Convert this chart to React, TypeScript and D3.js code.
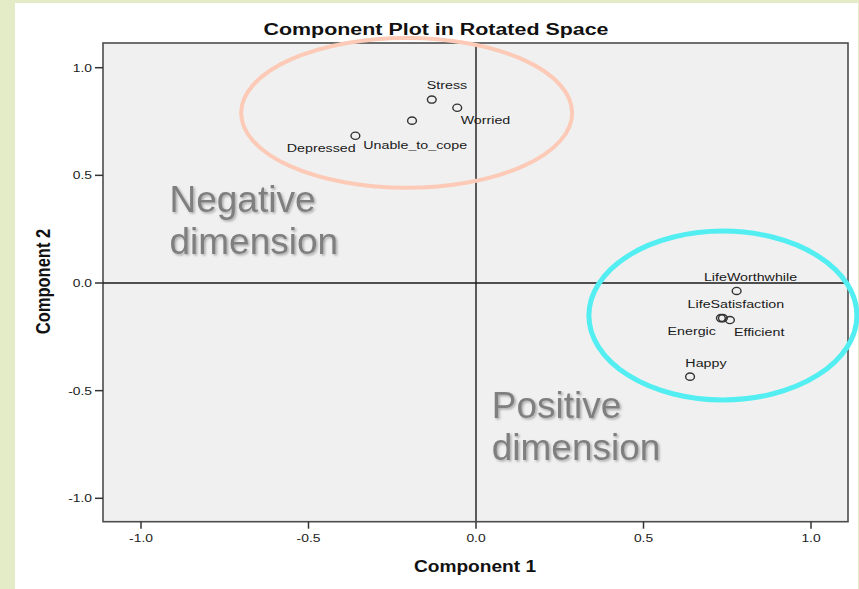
import React from "react";
import * as d3 from "d3";

const pointNames = ["Stress", "Worried", "Unable_to_cope", "Depressed", "LifeWorthwhile", "LifeSatisfaction", "Energic", "Efficient", "Happy"];
const component1 = [-0.132, -0.056, -0.191, -0.360, 0.778, 0.731, 0.737, 0.758, 0.639];
const component2 = [0.852, 0.814, 0.754, 0.684, -0.037, -0.163, -0.163, -0.172, -0.435];
const tickValues = [-1.0, -0.5, 0.0, 0.5, 1.0];
const tickLabels = ["-1.0", "-0.5", "0.0", "0.5", "1.0"];
const titleText = "Component Plot in Rotated Space";
const xAxisTitle = "Component 1";
const yAxisTitle = "Component 2";
const annotationLines = [["Negative", "dimension"], ["Positive", "dimension"]];
const annotationAnchorX = [-0.915, 0.047];
const annotationAnchorY = [0.331, -0.628];
const ellipseCx = [-0.207, 0.737];
const ellipseCy = [0.790, -0.151];
const ellipseRx = [0.494, 0.400];
const ellipseRy = [0.348, 0.392];

// label layout offsets (pixels, relative to point)
const labelDx = [-5, 3.4, -48.7, -68.6, -32.7, -33.3, -55.3, 4, -4.7];
const labelDy = [-10.7, 16.3, 28.3, 15.8, -10.3, -9.7, 17, 15.7, -9.4];

const W = 859;
const H = 589;
const plot = { left: 103, top: 43, right: 848, bottom: 521.7 };
const FONT = "'Liberation Sans', Arial, sans-serif";

export default function App() {
  const x = d3.scaleLinear().domain([-1, 1]).range([141, 811]);
  const y = d3.scaleLinear().domain([-1, 1]).range([498.3, 67.7]);
  const ellipseColors = ["#fccab6", "#52eef1"];
  const ellipseWidths = [4, 5];

  return (
    <div style={{ position: "fixed", left: 0, top: 0 }}>
      <svg width={W} height={H} style={{ display: "block" }}>
        <defs>
          <filter id="shadow" x="-10%" y="-10%" width="130%" height="140%">
            <feDropShadow dx="1.5" dy="1.5" stdDeviation="1.2" floodColor="#000" floodOpacity="0.3" />
          </filter>
        </defs>
        <rect x={0} y={0} width={W} height={H} fill="#e3ebc7" />
        <rect x={15} y={3} width={843} height={H - 3} fill="#ffffff" />
        <rect
          x={plot.left}
          y={plot.top}
          width={plot.right - plot.left}
          height={plot.bottom - plot.top}
          fill="#f0f0f0"
          stroke="#4d4d4d"
          strokeWidth={1.6}
        />
        {/* reference lines */}
        <line x1={x(0)} x2={x(0)} y1={plot.top} y2={plot.bottom} stroke="#5a5a5a" strokeWidth={2} />
        <line x1={plot.left} x2={plot.right} y1={y(0)} y2={y(0)} stroke="#1a1a1a" strokeWidth={1.5} />

        {/* y ticks */}
        {tickValues.map((v, i) => (
          <g key={"yt" + i}>
            <line x1={95} x2={plot.left} y1={y(v)} y2={y(v)} stroke="#333" strokeWidth={1.5} />
            <text
              transform={`translate(92,${y(v) + 4}) scale(1.26,1)`}
              textAnchor="end"
              fontFamily={FONT}
              fontSize={11}
              fill="#222"
            >
              {tickLabels[i]}
            </text>
          </g>
        ))}
        {/* x ticks */}
        {tickValues.map((v, i) => (
          <g key={"xt" + i}>
            <line x1={x(v)} x2={x(v)} y1={plot.bottom} y2={plot.bottom + 7} stroke="#333" strokeWidth={1.5} />
            <text
              transform={`translate(${x(v)},542) scale(1.26,1)`}
              textAnchor="middle"
              fontFamily={FONT}
              fontSize={11}
              fill="#222"
            >
              {tickLabels[i]}
            </text>
          </g>
        ))}

        {/* points */}
        {pointNames.map((name, i) => (
          <g key={name}>
            <ellipse
              cx={x(component1[i])}
              cy={y(component2[i])}
              rx={4.4}
              ry={3.6}
              fill="none"
              stroke="#333"
              strokeWidth={1.4}
            />
            <text
              transform={`translate(${x(component1[i]) + labelDx[i]},${y(component2[i]) + labelDy[i]}) scale(1.24,1)`}
              fontFamily={FONT}
              fontSize={11.5}
              fill="#1a1a1a"
            >
              {name}
            </text>
          </g>
        ))}

        {/* annotation ellipses */}
        {ellipseCx.map((cx, i) => (
          <ellipse
            key={"el" + i}
            cx={x(cx)}
            cy={y(ellipseCy[i])}
            rx={x(ellipseRx[i]) - x(0)}
            ry={y(0) - y(ellipseRy[i])}
            fill="none"
            stroke={ellipseColors[i]}
            strokeWidth={ellipseWidths[i]}
          />
        ))}

        {/* annotation text */}
        {annotationLines.map((lines, i) => (
          <text
            key={"an" + i}
            x={x(annotationAnchorX[i])}
            y={y(annotationAnchorY[i])}
            fontFamily={FONT}
            fontSize={37}
            fill="#7f7f7f"
            filter="url(#shadow)"
          >
            {lines.map((l, j) => (
              <tspan key={j} x={x(annotationAnchorX[i])} dy={j === 0 ? 0 : 42}>
                {l}
              </tspan>
            ))}
          </text>
        ))}

        {/* titles */}
        <text
          transform={`translate(436,35) scale(1.26,1)`}
          textAnchor="middle"
          fontFamily={FONT}
          fontSize={17}
          fontWeight="bold"
          fill="#111"
        >
          {titleText}
        </text>
        <text
          transform={`translate(475,571.7) scale(1.16,1)`}
          textAnchor="middle"
          fontFamily={FONT}
          fontSize={16.5}
          fontWeight="bold"
          fill="#111"
        >
          {xAxisTitle}
        </text>
        <text
          transform={`translate(50,281.5) scale(1.22,1) rotate(-90)`}
          textAnchor="middle"
          fontFamily={FONT}
          fontSize={16.5}
          fontWeight="bold"
          fill="#111"
        >
          {yAxisTitle}
        </text>
      </svg>
    </div>
  );
}
